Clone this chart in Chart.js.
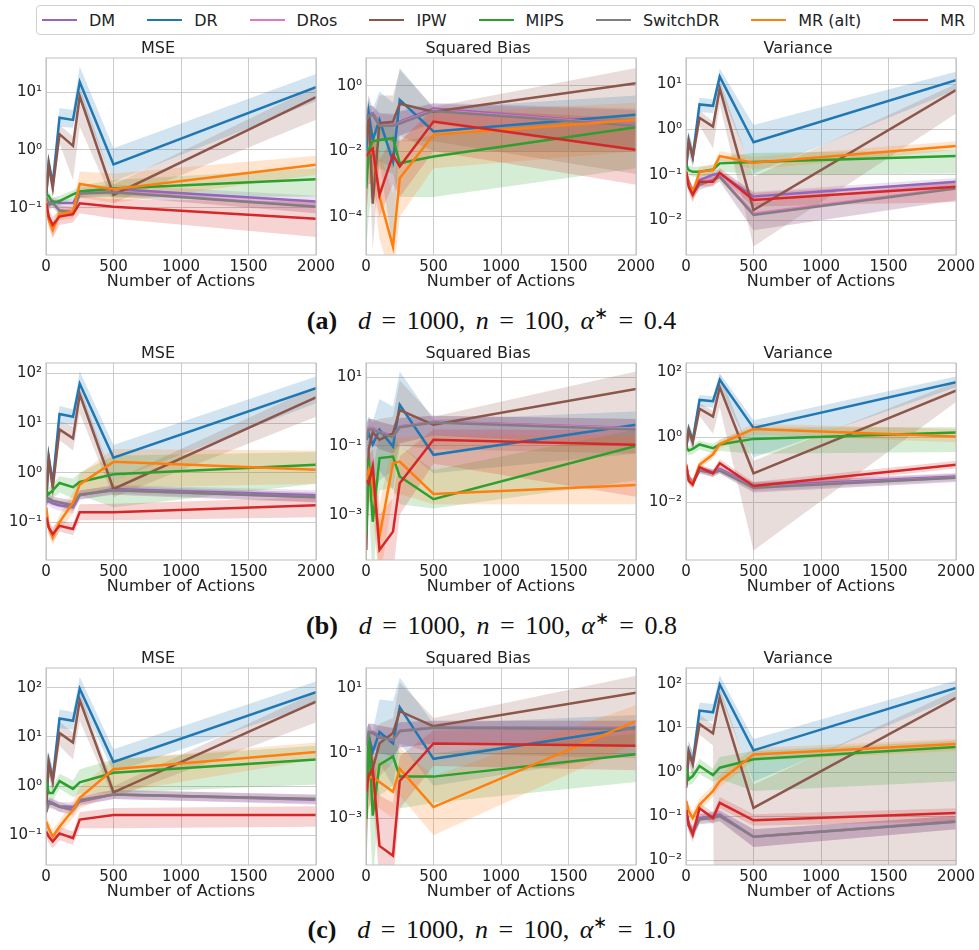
<!DOCTYPE html>
<html>
<head>
<meta charset="utf-8">
<script src="https://cdn.jsdelivr.net/npm/chart.js@4.4.1/dist/chart.umd.min.js"></script>
<style>
  body { margin: 0; background: #fff; width: 979px; height: 950px; position: relative; overflow: hidden; font-family: 'DejaVu Sans', sans-serif; }
  canvas { position: absolute; }
  #legend { position: absolute; left: 36px; top: 5px; width: 939px; height: 30px; box-sizing: border-box; border: 1px solid #d0d0d0; border-radius: 4px; display: flex; align-items: center; gap: 32px; padding-left: 5px; }
  .item { display: flex; align-items: center; font-size: 16px; color: #222; white-space: nowrap; }
  .item .sw { display: inline-block; width: 35px; height: 2.5px; margin-right: 12px; }
  .cap { position: absolute; left: 2px; width: 979px; text-align: center; font-family: 'Liberation Serif', serif; font-size: 26px; line-height: 30px; word-spacing: 4px; color: #111; }
  .cap sup { font-size: 17px; line-height: 0; }
</style>
</head>
<body>
<div id="legend"></div>
<div class="cap" style="top:306px"><b>(a)</b>&nbsp; <i>d</i> = 1000, <i>n</i> = 100, <i>α</i><sup>∗</sup> = 0.4</div>
<div class="cap" style="top:611px"><b>(b)</b>&nbsp; <i>d</i> = 1000, <i>n</i> = 100, <i>α</i><sup>∗</sup> = 0.8</div>
<div class="cap" style="top:915px"><b>(c)</b>&nbsp; <i>d</i> = 1000, <i>n</i> = 100, <i>α</i><sup>∗</sup> = 1.0</div>
<script>
const actions = [2, 20, 50, 100, 200, 250, 500, 2000];
const methods = ['DM', 'DR', 'DRos', 'IPW', 'MIPS', 'SwitchDR', 'MR (alt)', 'MR'];
const colors = ['#9467bd', '#1f77b4', '#e377c2', '#8c564b', '#2ca02c', '#7f7f7f', '#ff7f0e', '#d62728'];
const metrics = ['MSE', 'Squared Bias', 'Variance'];

// rows follow the order of methods: DM, DR, DRos, IPW, MIPS, SwitchDR, MR (alt), MR

// (a) alpha* = 0.4
const mse_a = [
  [0.15, 0.12, 0.13, 0.12, 0.12, 0.19, 0.21, 0.127],
  [0.17, 0.60, 0.26, 3.6, 3.3, 14.9, 0.56, 12.2],
  [0.15, 0.11, 0.12, 0.09, 0.085, 0.175, 0.19, 0.105],
  [0.17, 0.55, 0.22, 1.87, 1.17, 8.4, 0.166, 8.2],
  [0.17, 0.16, 0.12, 0.13, 0.17, 0.19, 0.215, 0.31],
  [0.15, 0.11, 0.12, 0.089, 0.082, 0.175, 0.185, 0.104],
  [0.13, 0.061, 0.041, 0.078, 0.085, 0.257, 0.208, 0.55],
  [0.12, 0.07, 0.05, 0.07, 0.077, 0.119, 0.104, 0.064]
];
const mse_a_lo = [
  [0.12, 0.10, 0.11, 0.10, 0.10, 0.16, 0.17, 0.10],
  [0.10, 0.40, 0.18, 2.5, 2.4, 7.9, 0.28, 6.9],
  [0.12, 0.09, 0.10, 0.075, 0.07, 0.15, 0.16, 0.08],
  [0.10, 0.37, 0.15, 1.3, 0.3, 2.5, 0.12, 3.3],
  [0.14, 0.13, 0.10, 0.11, 0.14, 0.15, 0.15, 0.155],
  [0.12, 0.09, 0.10, 0.073, 0.068, 0.15, 0.155, 0.08],
  [0.10, 0.045, 0.03, 0.06, 0.065, 0.15, 0.12, 0.37],
  [0.10, 0.05, 0.03, 0.05, 0.055, 0.08, 0.065, 0.031]
];
const mse_a_hi = [
  [0.18, 0.14, 0.15, 0.14, 0.14, 0.22, 0.25, 0.16],
  [0.35, 0.88, 0.35, 5.3, 4.9, 27.8, 1.07, 20.5],
  [0.18, 0.13, 0.14, 0.11, 0.10, 0.20, 0.22, 0.13],
  [0.30, 0.80, 0.30, 2.7, 1.7, 12.5, 0.25, 12.5],
  [0.20, 0.19, 0.15, 0.16, 0.20, 0.24, 0.30, 0.48],
  [0.18, 0.13, 0.14, 0.11, 0.10, 0.20, 0.22, 0.13],
  [0.16, 0.08, 0.055, 0.10, 0.11, 0.42, 0.39, 0.79],
  [0.15, 0.09, 0.07, 0.09, 0.10, 0.16, 0.14, 0.127]
];
const bias_a = [
  [0.1, 0.13, 0.146, 0.07, 0.064, 0.08, 0.2, 0.064],
  [0.01, 0.146, 0.022, 0.09, 0.0048, 0.37, 0.04, 0.13],
  [0.09, 0.12, 0.13, 0.065, 0.06, 0.075, 0.18, 0.062],
  [0.022, 0.13, 0.00025, 0.072, 0.08, 0.28, 0.16, 1.2],
  [0.00073, 0.011, 0.02, 0.022, 0.025, 0.0043, 0.0069, 0.054],
  [0.09, 0.12, 0.13, 0.06, 0.06, 0.07, 0.17, 0.06],
  [0.007, 0.0087, 0.011, 0.00041, 0.000012, 0.0015, 0.032, 0.09],
  [0.007, 0.009, 0.012, 0.00046, 0.0077, 0.0034, 0.081, 0.011]
];
const bias_a_lo = [
  [0.03, 0.05, 0.06, 0.02, 0.02, 0.03, 0.08, 0.01],
  [0.0001, 0.02, 0.001, 0.005, 0.00001, 0.03, 0.01, 0.01],
  [0.03, 0.05, 0.05, 0.02, 0.02, 0.03, 0.07, 0.01],
  [0.0001, 0.01, 0.00001, 0.005, 0.003, 0.02, 0.02, 0.002],
  [0.00001, 0.0001, 0.001, 0.003, 0.002, 0.0004, 0.0004, 0.003],
  [0.03, 0.05, 0.05, 0.02, 0.02, 0.03, 0.07, 0.01],
  [0.0001, 0.001, 0.001, 0.00002, 0.000001, 0.0001, 0.003, 0.01],
  [0.0001, 0.001, 0.001, 0.0001, 0.001, 0.0004, 0.01, 0.00094]
];
const bias_a_hi = [
  [0.2, 0.25, 0.25, 0.15, 0.14, 0.17, 0.3, 0.2],
  [0.1, 0.5, 0.2, 0.67, 0.3, 3.5, 0.2, 0.5],
  [0.18, 0.24, 0.24, 0.14, 0.13, 0.16, 0.28, 0.18],
  [0.2, 0.5, 0.1, 0.5, 0.5, 3, 0.23, 3.5],
  [0.01, 0.05, 0.06, 0.06, 0.06, 0.02, 0.03, 0.15],
  [0.18, 0.24, 0.24, 0.14, 0.13, 0.16, 0.28, 0.18],
  [0.05, 0.04, 0.05, 0.01, 0.0005, 0.02, 0.15, 0.3],
  [0.05, 0.04, 0.05, 0.005, 0.03, 0.02, 0.2, 0.1]
];
const var_a = [
  [0.09, 0.064, 0.045, 0.076, 0.1, 0.107, 0.033, 0.07],
  [0.15, 0.58, 0.25, 3.55, 3.3, 14.5, 0.52, 12.2],
  [0.09, 0.07, 0.04, 0.062, 0.078, 0.092, 0.014, 0.051],
  [0.15, 0.53, 0.25, 1.8, 1.15, 8.0, 0.0166, 7.4],
  [0.16, 0.127, 0.116, 0.116, 0.13, 0.178, 0.19, 0.26],
  [0.09, 0.07, 0.039, 0.06, 0.076, 0.09, 0.013, 0.05],
  [0.116, 0.064, 0.039, 0.116, 0.127, 0.258, 0.184, 0.43],
  [0.116, 0.054, 0.036, 0.07, 0.07, 0.11, 0.0276, 0.054]
];
const var_a_lo = [
  [0.07, 0.05, 0.035, 0.06, 0.08, 0.085, 0.025, 0.055],
  [0.08, 0.35, 0.15, 2.4, 2.3, 7.4, 0.107, 7.4],
  [0.07, 0.055, 0.03, 0.048, 0.06, 0.072, 0.006, 0.028],
  [0.08, 0.3, 0.15, 1.2, 0.38, 3.5, 0.0026, 2.25],
  [0.12, 0.1, 0.09, 0.09, 0.1, 0.12, 0.1, 0.107],
  [0.07, 0.055, 0.03, 0.046, 0.058, 0.07, 0.006, 0.027],
  [0.09, 0.045, 0.025, 0.09, 0.1, 0.2, 0.13, 0.35],
  [0.09, 0.04, 0.025, 0.055, 0.055, 0.085, 0.02, 0.025]
];
const var_a_hi = [
  [0.11, 0.08, 0.056, 0.095, 0.125, 0.13, 0.042, 0.085],
  [0.3, 0.9, 0.4, 5.0, 4.6, 22, 1.25, 18.7],
  [0.11, 0.09, 0.05, 0.08, 0.1, 0.115, 0.025, 0.07],
  [0.3, 0.8, 0.4, 2.6, 1.5, 12, 0.09, 10],
  [0.2, 0.16, 0.15, 0.15, 0.17, 0.25, 0.3, 0.35],
  [0.11, 0.09, 0.05, 0.078, 0.098, 0.11, 0.024, 0.068],
  [0.15, 0.085, 0.055, 0.15, 0.16, 0.33, 0.25, 0.55],
  [0.15, 0.07, 0.05, 0.09, 0.09, 0.14, 0.04, 0.07]
];

// (b) alpha* = 0.8
const mse_b = [
  [0.25, 0.27, 0.24, 0.22, 0.2, 0.35, 0.47, 0.35],
  [0.3, 2.07, 0.6, 15.2, 13.4, 61.7, 2.0, 50.5],
  [0.27, 0.3, 0.27, 0.25, 0.22, 0.36, 0.44, 0.32],
  [0.3, 1.9, 0.51, 7.4, 4.9, 38, 0.47, 33],
  [0.44, 0.37, 0.44, 0.62, 0.51, 0.65, 0.93, 1.45],
  [0.27, 0.3, 0.27, 0.25, 0.22, 0.36, 0.44, 0.32],
  [0.2, 0.079, 0.05, 0.1, 0.25, 0.58, 1.65, 1.15],
  [0.127, 0.079, 0.058, 0.085, 0.073, 0.16, 0.16, 0.22]
];
const mse_b_lo = [
  [0.2, 0.22, 0.19, 0.17, 0.15, 0.28, 0.38, 0.26],
  [0.15, 1.2, 0.35, 10, 9, 37, 0.7, 25],
  [0.22, 0.24, 0.22, 0.2, 0.17, 0.29, 0.36, 0.25],
  [0.15, 1.0, 0.3, 4.5, 2.8, 15.7, 0.32, 13.4],
  [0.3, 0.25, 0.3, 0.4, 0.3, 0.35, 0.2, 0.6],
  [0.22, 0.24, 0.22, 0.2, 0.17, 0.29, 0.36, 0.25],
  [0.14, 0.055, 0.035, 0.07, 0.15, 0.35, 0.5, 0.6],
  [0.1, 0.06, 0.04, 0.065, 0.055, 0.11, 0.11, 0.127]
];
const mse_b_hi = [
  [0.31, 0.33, 0.3, 0.28, 0.26, 0.43, 0.57, 0.44],
  [0.6, 3.2, 1.0, 22, 19, 110, 3.6, 87],
  [0.33, 0.37, 0.33, 0.31, 0.28, 0.44, 0.54, 0.4],
  [0.6, 3, 0.8, 11, 8.4, 54, 0.7, 54],
  [0.6, 0.5, 0.6, 0.85, 0.75, 1.0, 2.2, 2.6],
  [0.33, 0.37, 0.33, 0.31, 0.28, 0.44, 0.54, 0.4],
  [0.28, 0.11, 0.07, 0.14, 0.4, 0.95, 3, 2.8],
  [0.16, 0.1, 0.08, 0.11, 0.095, 0.23, 0.235, 0.32]
];
const bias_b = [
  [0.17, 0.33, 0.33, 0.26, 0.19, 0.37, 0.5, 0.33],
  [0.15, 0.23, 0.11, 0.29, 0.095, 1.57, 0.055, 0.41],
  [0.17, 0.32, 0.32, 0.25, 0.185, 0.36, 0.49, 0.32],
  [0.000094, 0.08, 0.25, 0.15, 0.23, 1.1, 0.41, 4.5],
  [0.00029, 0.039, 0.00062, 0.044, 0.049, 0.0128, 0.0028, 0.1],
  [0.15, 0.3, 0.3, 0.24, 0.18, 0.35, 0.48, 0.3],
  [0.0103, 0.02, 0.008, 0.00023, 0.031, 0.035, 0.004, 0.0073],
  [0.01, 0.008, 0.025, 0.000094, 0.00032, 0.0082, 0.15, 0.107]
];
const bias_b_lo = [
  [0.05, 0.12, 0.12, 0.08, 0.06, 0.12, 0.2, 0.1],
  [0.01, 0.03, 0.01, 0.02, 0.005, 0.1, 0.016, 0.06],
  [0.05, 0.12, 0.12, 0.08, 0.06, 0.12, 0.2, 0.1],
  [0.00001, 0.01, 0.003, 0.01, 0.02, 0.1, 0.08, 0.06],
  [0.00001, 0.003, 0.00001, 0.005, 0.006, 0.002, 0.0015, 0.01],
  [0.05, 0.12, 0.12, 0.08, 0.06, 0.12, 0.2, 0.1],
  [0.002, 0.004, 0.001, 0.00001, 0.004, 0.004, 0.002, 0.002],
  [0.002, 0.002, 0.004, 0.00001, 0.00002, 0.001, 0.03, 0.0033]
];
const bias_b_hi = [
  [0.4, 0.6, 0.6, 0.5, 0.4, 0.65, 0.75, 0.6],
  [0.5, 0.7, 0.5, 2.3, 1.4, 14.6, 0.57, 1.0],
  [0.4, 0.6, 0.6, 0.5, 0.4, 0.65, 0.75, 0.6],
  [0.01, 0.7, 0.5, 0.6, 0.7, 8, 0.7, 14.6],
  [0.01, 0.15, 0.02, 0.2, 0.2, 0.1, 0.02, 0.3],
  [0.4, 0.6, 0.6, 0.5, 0.4, 0.65, 0.75, 0.6],
  [0.04, 0.06, 0.03, 0.002, 0.15, 0.18, 0.2, 0.2],
  [0.04, 0.05, 0.08, 0.001, 0.003, 0.05, 0.3, 0.29]
];
const var_b = [
  [0.12, 0.059, 0.041, 0.106, 0.084, 0.106, 0.032, 0.062],
  [0.5, 1.8, 0.79, 14, 12.8, 58, 1.94, 49],
  [0.11, 0.056, 0.04, 0.097, 0.08, 0.097, 0.029, 0.058],
  [0.5, 1.6, 0.7, 7.5, 4.3, 34, 0.078, 27],
  [0.49, 0.39, 0.44, 0.6, 0.46, 0.6, 0.89, 1.4],
  [0.11, 0.055, 0.04, 0.095, 0.08, 0.095, 0.028, 0.057],
  [0.15, 0.052, 0.037, 0.144, 0.3, 0.62, 1.8, 1.05],
  [0.134, 0.046, 0.035, 0.12, 0.078, 0.16, 0.032, 0.144]
];
const var_b_lo = [
  [0.09, 0.045, 0.03, 0.08, 0.065, 0.08, 0.022, 0.045],
  [0.25, 1.0, 0.45, 9, 8, 34, 0.24, 34],
  [0.085, 0.042, 0.03, 0.075, 0.06, 0.075, 0.02, 0.042],
  [0.25, 0.9, 0.4, 4.5, 1.27, 8.4, 0.00033, 12],
  [0.35, 0.28, 0.3, 0.42, 0.32, 0.38, 0.31, 0.35],
  [0.085, 0.042, 0.03, 0.075, 0.06, 0.075, 0.02, 0.042],
  [0.11, 0.04, 0.028, 0.11, 0.22, 0.45, 1.2, 0.7],
  [0.1, 0.035, 0.026, 0.09, 0.06, 0.12, 0.024, 0.11]
];
const var_b_hi = [
  [0.15, 0.075, 0.055, 0.13, 0.105, 0.13, 0.042, 0.08],
  [1.0, 2.8, 1.3, 20, 18, 93, 3.3, 73],
  [0.14, 0.07, 0.052, 0.12, 0.1, 0.12, 0.04, 0.075],
  [1.0, 2.6, 1.1, 11, 6.5, 89, 0.19, 49],
  [0.65, 0.52, 0.6, 0.8, 0.62, 0.85, 2.0, 2.03],
  [0.14, 0.07, 0.052, 0.12, 0.1, 0.12, 0.04, 0.075],
  [0.2, 0.068, 0.05, 0.19, 0.4, 0.8, 2.6, 1.8],
  [0.17, 0.06, 0.045, 0.15, 0.1, 0.21, 0.042, 0.19]
];

// (c) alpha* = 1.0
const mse_c = [
  [0.31, 0.49, 0.46, 0.39, 0.38, 0.49, 0.68, 0.53],
  [0.4, 3.2, 1.37, 23.8, 21.3, 95, 3.1, 81],
  [0.3, 0.45, 0.44, 0.38, 0.33, 0.52, 0.68, 0.55],
  [0.4, 3.0, 1.27, 12, 7.7, 56, 0.75, 52],
  [1.27, 0.73, 0.73, 1.27, 0.88, 1.2, 1.87, 3.5],
  [0.3, 0.45, 0.44, 0.38, 0.33, 0.52, 0.68, 0.55],
  [0.19, 0.14, 0.095, 0.15, 0.33, 0.58, 2.2, 4.96],
  [0.12, 0.095, 0.075, 0.11, 0.088, 0.21, 0.26, 0.26]
];
const mse_c_lo = [
  [0.24, 0.39, 0.37, 0.31, 0.3, 0.39, 0.55, 0.42],
  [0.2, 1.8, 0.8, 15, 14, 59, 1.9, 47],
  [0.24, 0.36, 0.35, 0.3, 0.26, 0.42, 0.55, 0.44],
  [0.2, 1.7, 0.7, 6.6, 3.5, 21, 0.58, 19.7],
  [0.9, 0.5, 0.5, 0.9, 0.6, 0.7, 0.73, 1.08],
  [0.24, 0.36, 0.35, 0.3, 0.26, 0.42, 0.55, 0.44],
  [0.14, 0.1, 0.07, 0.11, 0.22, 0.35, 0.73, 3.5],
  [0.09, 0.07, 0.055, 0.08, 0.065, 0.14, 0.14, 0.15]
];
const mse_c_hi = [
  [0.39, 0.6, 0.57, 0.48, 0.47, 0.6, 0.84, 0.66],
  [0.8, 5, 2.2, 36, 32, 164, 5.6, 134],
  [0.37, 0.56, 0.54, 0.47, 0.41, 0.64, 0.84, 0.68],
  [0.8, 5, 2.2, 20, 12.3, 88, 1.0, 81],
  [1.8, 1.05, 1.05, 1.8, 1.3, 2.2, 3.5, 6.6],
  [0.37, 0.56, 0.54, 0.47, 0.41, 0.64, 0.84, 0.68],
  [0.26, 0.19, 0.13, 0.2, 0.5, 0.95, 3.5, 7.7],
  [0.16, 0.13, 0.1, 0.15, 0.12, 0.3, 0.36, 0.39]
];
const bias_c = [
  [0.2, 0.45, 0.45, 0.33, 0.26, 0.49, 0.62, 0.6],
  [0.18, 0.33, 0.11, 0.45, 0.2, 2.6, 0.067, 0.62],
  [0.19, 0.42, 0.42, 0.3, 0.25, 0.47, 0.6, 0.55],
  [0.00096, 0.37, 0.034, 0.2, 0.42, 1.96, 0.67, 7.2],
  [0.00096, 0.42, 0.0012, 0.044, 0.079, 0.019, 0.019, 0.093],
  [0.18, 0.42, 0.42, 0.3, 0.25, 0.47, 0.6, 0.55],
  [0.0082, 0.017, 0.019, 0.013, 0.0065, 0.033, 0.0022, 0.96],
  [0.0065, 0.021, 0.033, 0.00014, 0.00007, 0.014, 0.2, 0.17]
];
const bias_c_lo = [
  [0.06, 0.15, 0.15, 0.1, 0.08, 0.15, 0.2, 0.18],
  [0.01, 0.05, 0.01, 0.05, 0.01, 0.2, 0.01, 0.1],
  [0.06, 0.15, 0.15, 0.1, 0.08, 0.15, 0.2, 0.18],
  [0.00001, 0.03, 0.003, 0.02, 0.05, 0.2, 0.1, 0.07],
  [0.00001, 0.01, 0.00001, 0.005, 0.01, 0.002, 0.003, 0.013],
  [0.06, 0.15, 0.15, 0.1, 0.08, 0.15, 0.2, 0.18],
  [0.0003, 0.002, 0.003, 0.002, 0.001, 0.005, 0.0003, 0.2],
  [0.0001, 0.002, 0.005, 0.00001, 0.00001, 0.002, 0.04, 0.03]
];
const bias_c_hi = [
  [0.5, 0.8, 0.8, 0.7, 0.6, 0.9, 1.0, 1.0],
  [0.6, 0.8, 0.5, 4.5, 4, 21, 0.8, 1.5],
  [0.5, 0.8, 0.8, 0.7, 0.6, 0.9, 1.0, 1.0],
  [0.05, 0.9, 0.4, 0.8, 1.2, 15, 1.2, 24],
  [0.05, 0.9, 0.03, 0.2, 0.3, 0.1, 0.1, 0.4],
  [0.5, 0.8, 0.8, 0.7, 0.6, 0.9, 1.0, 1.0],
  [0.05, 0.08, 0.08, 0.06, 0.04, 0.15, 0.02, 3],
  [0.05, 0.1, 0.12, 0.005, 0.003, 0.08, 0.5, 0.6]
];
const var_c = [
  [0.13, 0.064, 0.045, 0.09, 0.1, 0.108, 0.034, 0.076],
  [0.5, 3.0, 1.63, 24.8, 22.7, 97, 3.1, 81],
  [0.12, 0.06, 0.042, 0.085, 0.09, 0.1, 0.034, 0.074],
  [0.44, 2.8, 1.5, 12.3, 7.5, 50, 0.153, 48],
  [1.25, 0.68, 0.81, 1.37, 0.85, 1.25, 1.95, 3.7],
  [0.12, 0.06, 0.042, 0.085, 0.09, 0.1, 0.034, 0.074],
  [0.22, 0.13, 0.09, 0.18, 0.37, 0.62, 2.5, 4.3],
  [0.14, 0.064, 0.038, 0.15, 0.09, 0.2, 0.08, 0.118]
];
const var_c_lo = [
  [0.1, 0.05, 0.03, 0.07, 0.075, 0.08, 0.02, 0.05],
  [0.25, 1.8, 0.9, 15, 14, 60, 0.6, 50],
  [0.09, 0.045, 0.03, 0.065, 0.07, 0.075, 0.02, 0.05],
  [0.25, 1.5, 0.8, 7, 4, 1e-30, 1e-30, 1e-30],
  [0.9, 0.5, 0.55, 0.9, 0.6, 0.7, 0.37, 0.62],
  [0.09, 0.045, 0.03, 0.065, 0.07, 0.075, 0.02, 0.05],
  [0.16, 0.09, 0.06, 0.13, 0.27, 0.45, 1.8, 3.0],
  [0.1, 0.045, 0.025, 0.11, 0.065, 0.15, 0.06, 0.076]
];
const var_c_hi = [
  [0.17, 0.08, 0.06, 0.11, 0.13, 0.14, 0.05, 0.1],
  [1.0, 5, 2.8, 38, 35, 156, 5.6, 120],
  [0.16, 0.08, 0.06, 0.11, 0.12, 0.13, 0.05, 0.1],
  [0.8, 5, 2.8, 20, 12, 80, 0.52, 71],
  [1.7, 0.9, 1.1, 2.0, 1.2, 2.2, 3.0, 5.1],
  [0.16, 0.08, 0.06, 0.11, 0.12, 0.13, 0.05, 0.1],
  [0.3, 0.18, 0.13, 0.25, 0.5, 0.85, 3.5, 5.6],
  [0.19, 0.09, 0.055, 0.2, 0.12, 0.27, 0.11, 0.15]
];

// plot-area placement (pixels) and log10 y limits
const colLeft = [46, 366, 686];
const rowTop = [58, 363, 668];
const plotW = 270, plotH = 197;
const yAxisW = 46, xAxisH = 36, titleH = 18, padRight = 24;

const panels = [
  { row: 0, col: 0, mean: mse_a, lo: mse_a_lo, hi: mse_a_hi, ylim: [-1.82, 1.589], ticks: [0.1, 1, 10] },
  { row: 0, col: 1, mean: bias_a, lo: bias_a_lo, hi: bias_a_hi, ylim: [-5.17, 0.847], ticks: [1e-4, 1e-2, 1] },
  { row: 0, col: 2, mean: var_a, lo: var_a_lo, hi: var_a_hi, ylim: [-2.77, 1.574], ticks: [0.01, 0.1, 1, 10] },
  { row: 1, col: 0, mean: mse_b, lo: mse_b_lo, hi: mse_b_hi, ylim: [-1.76, 2.21], ticks: [0.1, 1, 10, 100] },
  { row: 1, col: 1, mean: bias_b, lo: bias_b_lo, hi: bias_b_hi, ylim: [-4.32, 1.41], ticks: [1e-3, 0.1, 10] },
  { row: 1, col: 2, mean: var_b, lo: var_b_lo, hi: var_b_hi, ylim: [-3.77, 2.28], ticks: [0.01, 1, 100] },
  { row: 2, col: 0, mean: mse_c, lo: mse_c_lo, hi: mse_c_hi, ylim: [-1.60, 2.40], ticks: [0.1, 1, 10, 100] },
  { row: 2, col: 1, mean: bias_c, lo: bias_c_lo, hi: bias_c_hi, ylim: [-4.44, 1.62], ticks: [1e-3, 0.1, 10] },
  { row: 2, col: 2, mean: var_c, lo: var_c_lo, hi: var_c_hi, ylim: [-2.11, 2.36], ticks: [0.01, 0.1, 1, 10, 100] }
];

Chart.defaults.font.family = "'DejaVu Sans', sans-serif";

// legend
const legend = document.getElementById('legend');
methods.forEach((m, i) => {
  const it = document.createElement('div');
  it.className = 'item';
  it.innerHTML = '<span class="sw" style="background:' + colors[i] + '"></span>' + m;
  legend.appendChild(it);
});

function sup(n) {
  const map = { '-': '⁻', '0': '⁰', '1': '¹', '2': '²', '3': '³', '4': '⁴', '5': '⁵', '6': '⁶', '7': '⁷', '8': '⁸', '9': '⁹' };
  return String(n).split('').map(c => map[c]).join('');
}

function pts(arr) {
  return arr.map((v, k) => ({ x: actions[k], y: v }));
}

function rgba(hex, a) {
  const n = parseInt(hex.slice(1), 16);
  return 'rgba(' + (n >> 16) + ',' + ((n >> 8) & 255) + ',' + (n & 255) + ',' + a + ')';
}

// axes frame drawn over the data like matplotlib spines
const frame = {
  id: 'frame',
  afterDatasetsDraw(chart) {
    const a = chart.chartArea, ctx = chart.ctx;
    ctx.save();
    ctx.strokeStyle = '#bdbdbd';
    ctx.lineWidth = 1;
    ctx.strokeRect(a.left, a.top, a.right - a.left, a.bottom - a.top);
    ctx.restore();
  }
};

panels.forEach(p => {
  const canvas = document.createElement('canvas');
  canvas.width = yAxisW + plotW + padRight;
  canvas.height = titleH + plotH + xAxisH;
  canvas.style.left = (colLeft[p.col] - yAxisW) + 'px';
  canvas.style.top = (rowTop[p.row] - titleH) + 'px';
  document.body.appendChild(canvas);

  const datasets = [];
  methods.forEach((m, i) => {
    datasets.push({
      label: m + ' lo', data: pts(p.lo[i]), borderWidth: 0, pointRadius: 0,
      fill: false, order: 200 - i
    });
    datasets.push({
      label: m + ' hi', data: pts(p.hi[i]), borderWidth: 0, pointRadius: 0,
      fill: '-1', backgroundColor: rgba(colors[i], 0.2), order: 200 - i
    });
    datasets.push({
      label: m, data: pts(p.mean[i]), borderColor: colors[i], borderWidth: 2.5,
      pointRadius: 0, fill: false, tension: 0, order: 8 - i
    });
  });

  new Chart(canvas.getContext('2d'), {
    type: 'line',
    data: { datasets: datasets },
    options: {
      responsive: false,
      animation: false,
      layout: { padding: { left: 0, right: padRight, top: 0, bottom: 0 } },
      plugins: {
        legend: { display: false },
        tooltip: { enabled: false },
        title: {
          display: true, text: metrics[p.col], color: '#222',
          font: { size: 16, weight: 'normal', lineHeight: 1.125 },
          padding: { top: 0, bottom: 0 }
        }
      },
      scales: {
        x: {
          type: 'linear', min: 0, max: 2000,
          ticks: { stepSize: 500, color: '#222', font: { size: 15 }, padding: 3, maxRotation: 0, callback: v => String(v) },
          grid: { color: '#cccccc', drawTicks: false },
          border: { display: false },
          title: { display: true, text: 'Number of Actions', color: '#222', font: { size: 16 }, padding: 0 },
          afterFit: s => { s.height = xAxisH; }
        },
        y: {
          type: 'logarithmic',
          min: Math.pow(10, p.ylim[0]), max: Math.pow(10, p.ylim[1]),
          afterBuildTicks: s => { s.ticks = p.ticks.map(v => ({ value: v })); },
          ticks: {
            color: '#222', font: { size: 15 }, padding: 4,
            callback: v => '10' + sup(Math.round(Math.log10(v)))
          },
          grid: { color: '#cccccc', drawTicks: false },
          border: { display: false },
          afterFit: s => { s.width = yAxisW; }
        }
      }
    },
    plugins: [frame]
  });
});
</script>
</body>
</html>
